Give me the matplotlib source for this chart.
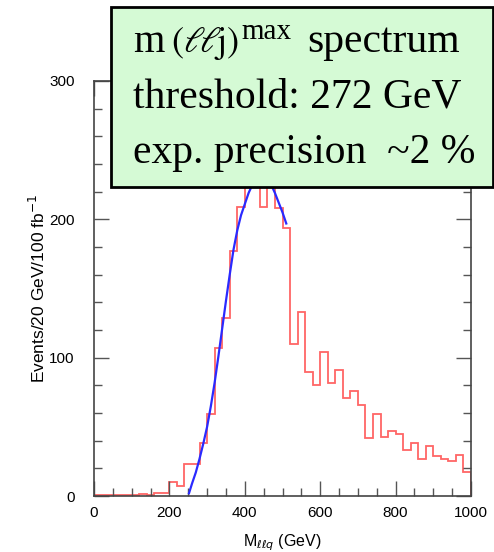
import numpy as np
import matplotlib
matplotlib.use('Agg')
from matplotlib import pyplot as plt
from matplotlib.patches import Rectangle

# histogram contents, 20 GeV bins from 0 to 1000 GeV
bin_edges = np.arange(0, 1001, 20)
events = [0.5, 0.5, 0.5, 0.5, 0.5, 0.5, 1.5, 1, 2, 2.5,
          10, 7, 23, 23, 38, 59, 107, 129, 177, 209,
          228, 232, 209, 230, 208, 194, 110, 133, 90, 80,
          104, 82, 91, 71, 76, 66, 42, 59, 43, 47,
          45, 33, 38, 27, 36, 29, 27, 25.5, 30, 17]

# fitted curve
fit_mass = [252, 260, 270, 280, 290, 300, 310, 320, 330, 340, 350, 360, 370, 380,
            390, 400, 410, 420, 430, 440, 450, 460, 470, 480, 490, 500, 510]
fit_events = [2, 9, 17, 27, 38, 50, 65, 82, 101, 121, 141, 160, 178, 192,
              203, 211, 219, 225, 229, 231, 231, 229, 225, 219, 212, 205, 197]

box_lines = ['threshold: 272 GeV', 'exp. precision  ~2 %']

fig = plt.figure(figsize=(4.94, 5.52), dpi=100)
ax = fig.add_axes([94 / 494, 1 - 496 / 552, 377 / 494, 415 / 552])

ax.stairs(events, bin_edges, color='#ff6666', lw=1.3)
ax.plot(fit_mass, fit_events, color='#2a2aff', lw=1.6)

ax.set_xlim(0, 1000)
ax.set_ylim(0, 300)
ax.set_xticks(np.arange(0, 1001, 200))
ax.set_xticks(np.arange(0, 1001, 50), minor=True)
ax.set_yticks([0, 100, 200, 300])
ax.set_yticks(np.arange(0, 301, 20), minor=True)
ax.tick_params(which='both', direction='in', top=True, right=True, color='#555555', width=1)
ax.tick_params(which='major', length=11, labelsize=11)
ax.tick_params(which='minor', length=6)
ax.tick_params(axis='y', pad=14)
ax.tick_params(axis='x', pad=7)
for lab in ax.get_xticklabels() + ax.get_yticklabels():
    lab.set_family('Liberation Sans')
for sp in ax.spines.values():
    sp.set_color('#444444')
    sp.set_linewidth(1.2)

ax.set_ylabel('Events/20 GeV/100 fb$^{-1}$', family='Liberation Sans', fontsize=12.5, labelpad=1)
ax.set_xlabel(r'M$_{\ell\ell q}$ (GeV)', family='Liberation Sans', fontsize=11.5, labelpad=9)

# green info box on top of the plot
box = Rectangle((111 / 494, 1 - 187 / 552), 382 / 494, 180 / 552, transform=fig.transFigure,
                facecolor='#d5fad5', edgecolor='black', lw=2, zorder=10)
fig.patches.append(box)

serif = 'Liberation Serif'


def px_text(x, y, s, size, **kw):
    # place text by pixel position (from top-left) of the 494x552 figure
    return fig.text(x / 494, 1 - y / 552, s, fontsize=size, va='baseline', zorder=11, **kw)


renderer = fig.canvas.get_renderer()


def right_edge(t):
    return t.get_window_extent(renderer).x1


# first line pieced together: m (ll j)^max  spectrum
t = px_text(133, 52, 'm', 29, family=serif)
t = px_text(right_edge(t) + 7, 52, r'$(\ell\!\ell\!\mathrm{j})$', 26, math_fontfamily='stix')
t = px_text(right_edge(t) + 2, 39, 'max', 21, family=serif)
px_text(max(right_edge(t) + 14, 307), 52, 'spectrum', 30, family=serif)
for i, line in enumerate(box_lines):
    px_text(133, 108 + 55.5 * i, line, 30, family=serif)

fig.savefig('out.png', dpi=100)
